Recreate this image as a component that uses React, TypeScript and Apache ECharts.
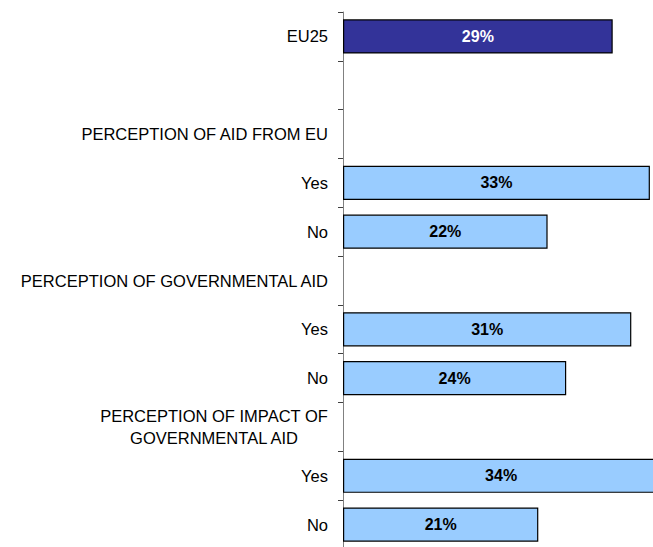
import React, { useEffect, useRef } from "react";
import * as echarts from "echarts";

const categories: string[] = [
  "EU25",
  "",
  "PERCEPTION OF AID FROM EU",
  "Yes",
  "No",
  "PERCEPTION OF GOVERNMENTAL AID",
  "Yes",
  "No",
  "PERCEPTION OF IMPACT OF\nGOVERNMENTAL AID",
  "Yes",
  "No",
];

const values: (number | null)[] = [29, null, null, 33, 22, null, 31, 24, null, 34, 21];

const highlightIndex = 0;

export default function App() {
  const ref = useRef<HTMLDivElement>(null);
  useEffect(() => {
    if (!ref.current) return;
    const chart = echarts.init(ref.current, undefined, { renderer: "svg" });
    const data = values.map((v, i) => {
      const hi = i === highlightIndex;
      return {
        value: v,
        itemStyle: {
          color: hi ? "#333399" : "#99CCFF",
          borderColor: "#000000",
          borderWidth: 1.2,
        },
        label: {
          color: hi ? "#ffffff" : "#000000",
        },
      };
    });
    chart.setOption({
      animation: false,
      grid: { left: 343, top: 12, width: 372, height: 537 },
      xAxis: {
        type: "value",
        min: 0,
        max: 40,
        show: false,
      },
      yAxis: {
        type: "category",
        inverse: true,
        data: categories,
        axisLine: { lineStyle: { color: "#808080", width: 1 } },
        axisTick: { show: true, length: 5, lineStyle: { color: "#404040" } },
        axisLabel: {
          margin: 15,
          fontFamily: "Liberation Sans, Arial, sans-serif",
          fontSize: 16.5,
          color: "#000000",
          lineHeight: 22,
          formatter: (val: string) => {
            if (val.indexOf("\n") >= 0) {
              return val
                .split("\n")
                .map((s) => "{c|" + s + "}")
                .join("\n");
            }
            return val;
          },
          rich: {
            c: {
              width: 228,
              align: "center",
              fontFamily: "Liberation Sans, Arial, sans-serif",
              fontSize: 16.5,
              color: "#000000",
              lineHeight: 22,
            },
          },
        },
      },
      series: [
        {
          type: "bar",
          data,
          barCategoryGap: "30%",
          label: {
            show: true,
            position: "inside",
            fontFamily: "Liberation Sans, Arial, sans-serif",
            fontWeight: "bold",
            fontSize: 16,
            formatter: (p: any) => (p.value == null ? "" : p.value + "%"),
          },
        },
      ],
    });
    return () => chart.dispose();
  }, []);
  return (
    <div
      style={{
        position: "fixed",
        left: 0,
        top: 0,
        width: 653,
        height: 547,
        overflow: "hidden",
        background: "#fff",
      }}
    >
      <div ref={ref} style={{ width: 760, height: 560 }} />
    </div>
  );
}
